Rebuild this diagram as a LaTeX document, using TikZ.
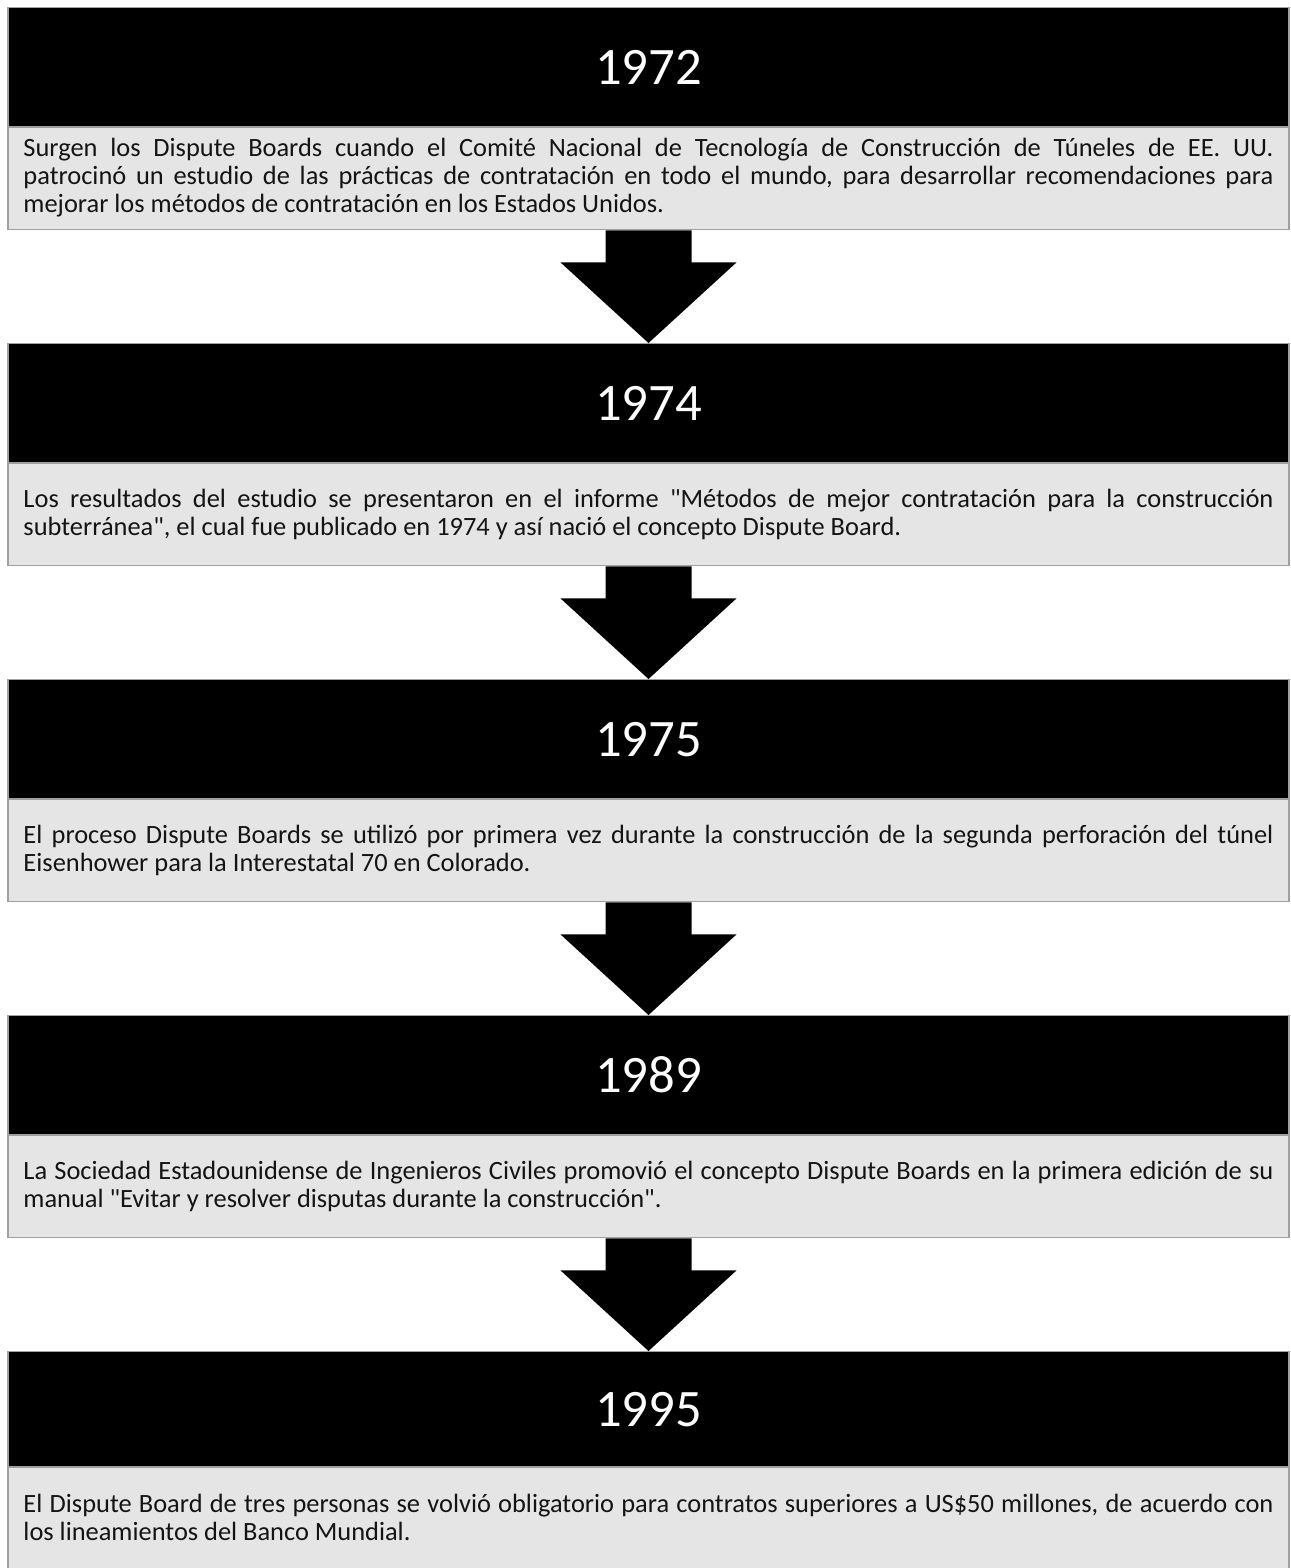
\documentclass[tikz,border=0pt]{standalone}
\usepackage{fontspec}
\setmainfont{Carlito}
\newfontfamily\calib{Carlito}
\usetikzlibrary{calc}
\definecolor{bordergray}{RGB}{160,160,160}
\definecolor{bodygray}{RGB}{229,229,229}
\definecolor{bodytextc}{RGB}{20,20,20}
\newcommand\bodysetup{\calib\fontsize{19.8pt}{21pt}\selectfont\frenchspacing\hyphenpenalty=10000\relax\exhyphenpenalty=10000\relax}
\tikzset{
  hdr/.style={draw=bordergray, line width=0.9pt, fill=black, text=white,
    minimum width=960.75pt, minimum height=89.25pt, inner sep=0pt, anchor=north,
    font=\calib\fontsize{39.5pt}{46pt}\selectfont},
  bodybox/.style={draw=bordergray, line width=0.9pt, fill=bodygray,
    minimum width=960.75pt, minimum height=76.5pt, inner sep=0pt, anchor=north},
  bodytext/.style={text width=937.5pt, align=justify, inner sep=0pt, text=bodytextc,
    font=\bodysetup},
  downarrow/.style={fill=black}
}
\begin{document}
\begin{tikzpicture}[x=0.75pt,y=-0.75pt]
\useasboundingbox (0,0) rectangle (1290,1568);

% box 1
\node[hdr] (h1) at (648.5,7) {1972};
\node[bodybox] (b1) at (h1.south) {};
\node[bodytext] (t1) at ($(b1.center)+(0,-1.5)$) {Surgen los Dispute Boards cuando el Comité Nacional de Tecnología de Construcción de Túneles de EE. UU.\linebreak patrocinó un estudio de las prácticas de contratación en todo el mundo, para desarrollar recomendaciones para\linebreak mejorar los métodos de contratación en los Estados Unidos.};

% box 2
\node[hdr] (h2) at (648.5,343) {1974};
\node[bodybox] (b2) at (h2.south) {};
\node[bodytext] (t2) at ($(b2.center)+(0,-0.5)$) {Los resultados del estudio se presentaron en el informe "Métodos de mejor contratación para la construcción\linebreak subterránea", el cual fue publicado en 1974 y así nació el concepto Dispute Board.};

% box 3
\node[hdr] (h3) at (648.5,679) {1975};
\node[bodybox] (b3) at (h3.south) {};
\node[bodytext] (t3) at ($(b3.center)+(0,-0.5)$) {El proceso Dispute Boards se utilizó por primera vez durante la construcción de la segunda perforación del túnel\linebreak Eisenhower para la Interestatal 70 en Colorado.};

% box 4
\node[hdr] (h4) at (648.5,1015) {1989};
\node[bodybox] (b4) at (h4.south) {};
\node[bodytext] (t4) at ($(b4.center)+(0,-0.5)$) {La Sociedad Estadounidense de Ingenieros Civiles promovió el concepto Dispute Boards en la primera edición de su\linebreak manual "Evitar y resolver disputas durante la construcción".};

% box 5
\node[hdr, minimum height=86.25pt] (h5) at (648.5,1351) {1995};
\node[bodybox, minimum height=75.75pt] (b5) at (h5.south) {};
\node[bodytext] (t5) at ($(b5.center)+(0,-0.5)$) {El Dispute Board de tres personas se volvió obligatorio para contratos superiores a US\$50 millones, de acuerdo con\linebreak los lineamientos del Banco Mundial.};

% arrows
\foreach \a/\b in {b1/h2,b2/h3,b3/h4,b4/h5}{
  \fill[downarrow] ($(\a.south)+(-43,0)$) -- ($(\a.south)+(43,0)$)
    -- ($(\a.south)+(43,32)$) -- ($(\a.south)+(88,32)$)
    -- (\b.north)
    -- ($(\a.south)+(-88,32)$) -- ($(\a.south)+(-43,32)$) -- cycle;
}
\end{tikzpicture}
\end{document}
